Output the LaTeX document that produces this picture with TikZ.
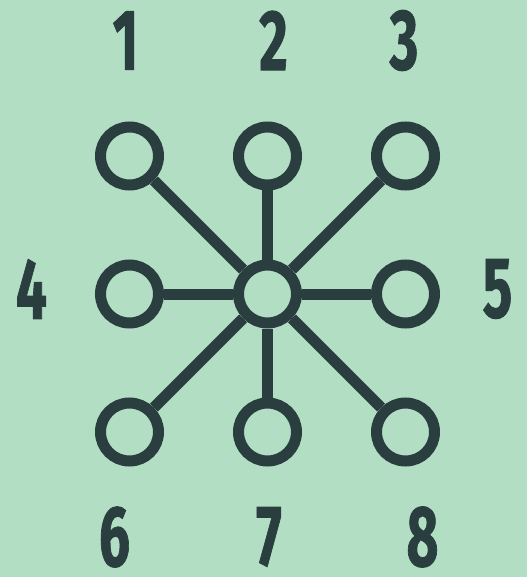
\documentclass[tikz,border=0pt]{standalone}
\usepackage{fontspec}
\setmainfont{Fira Sans}
\newfontfamily\numfont[BoldFeatures={FakeBold=1.2}]{Fira Sans}
\definecolor{bgc}{RGB}{178,222,196}
\definecolor{ink}{RGB}{42,62,64}
\begin{document}
\begin{tikzpicture}[x=1pt,y=-1pt,
  port/.style={circle,draw=ink,line width=11pt,minimum size=58pt,inner sep=0pt},
  wire/.style={draw=ink,line width=11pt},
  num/.style={text=ink,inner sep=0pt,font=\numfont\fontsize{86}{86}\selectfont\bfseries}]
\fill[bgc] (0,0) rectangle (527,577);
\useasboundingbox (0,0) rectangle (527,577);
\node[port] (c)  at (267.5,294) {};
\node[port] (p1) at (129.5,156) {};
\node[port] (p2) at (267.5,156) {};
\node[port] (p3) at (405.5,156) {};
\node[port] (p4) at (129.5,294) {};
\node[port] (p5) at (405.5,294) {};
\node[port] (p6) at (129.5,432) {};
\node[port] (p7) at (267.5,432) {};
\node[port] (p8) at (405.5,432) {};
\foreach \n in {p1,p2,p3,p4,p5,p6,p7,p8} \draw[wire] (c) -- (\n);
\node[num] (l1) at (125.5,40.5) {\scalebox{0.64}[1]{1}};
\node[num] (l2) at (273.5,40.5) {\scalebox{0.64}[1]{2}};
\node[num] (l3) at (404,40.5) {\scalebox{0.64}[1]{3}};
\node[num] (l4) at (31.5,289) {\scalebox{0.64}[1]{4}};
\node[num] (l5) at (497.5,289) {\scalebox{0.64}[1]{5}};
\node[num] (l6) at (114.5,537) {\scalebox{0.64}[1]{6}};
\node[num] (l7) at (269,537) {\scalebox{0.64}[1]{7}};
\node[num] (l8) at (422.5,537) {\scalebox{0.64}[1]{8}};
\end{tikzpicture}
\end{document}
